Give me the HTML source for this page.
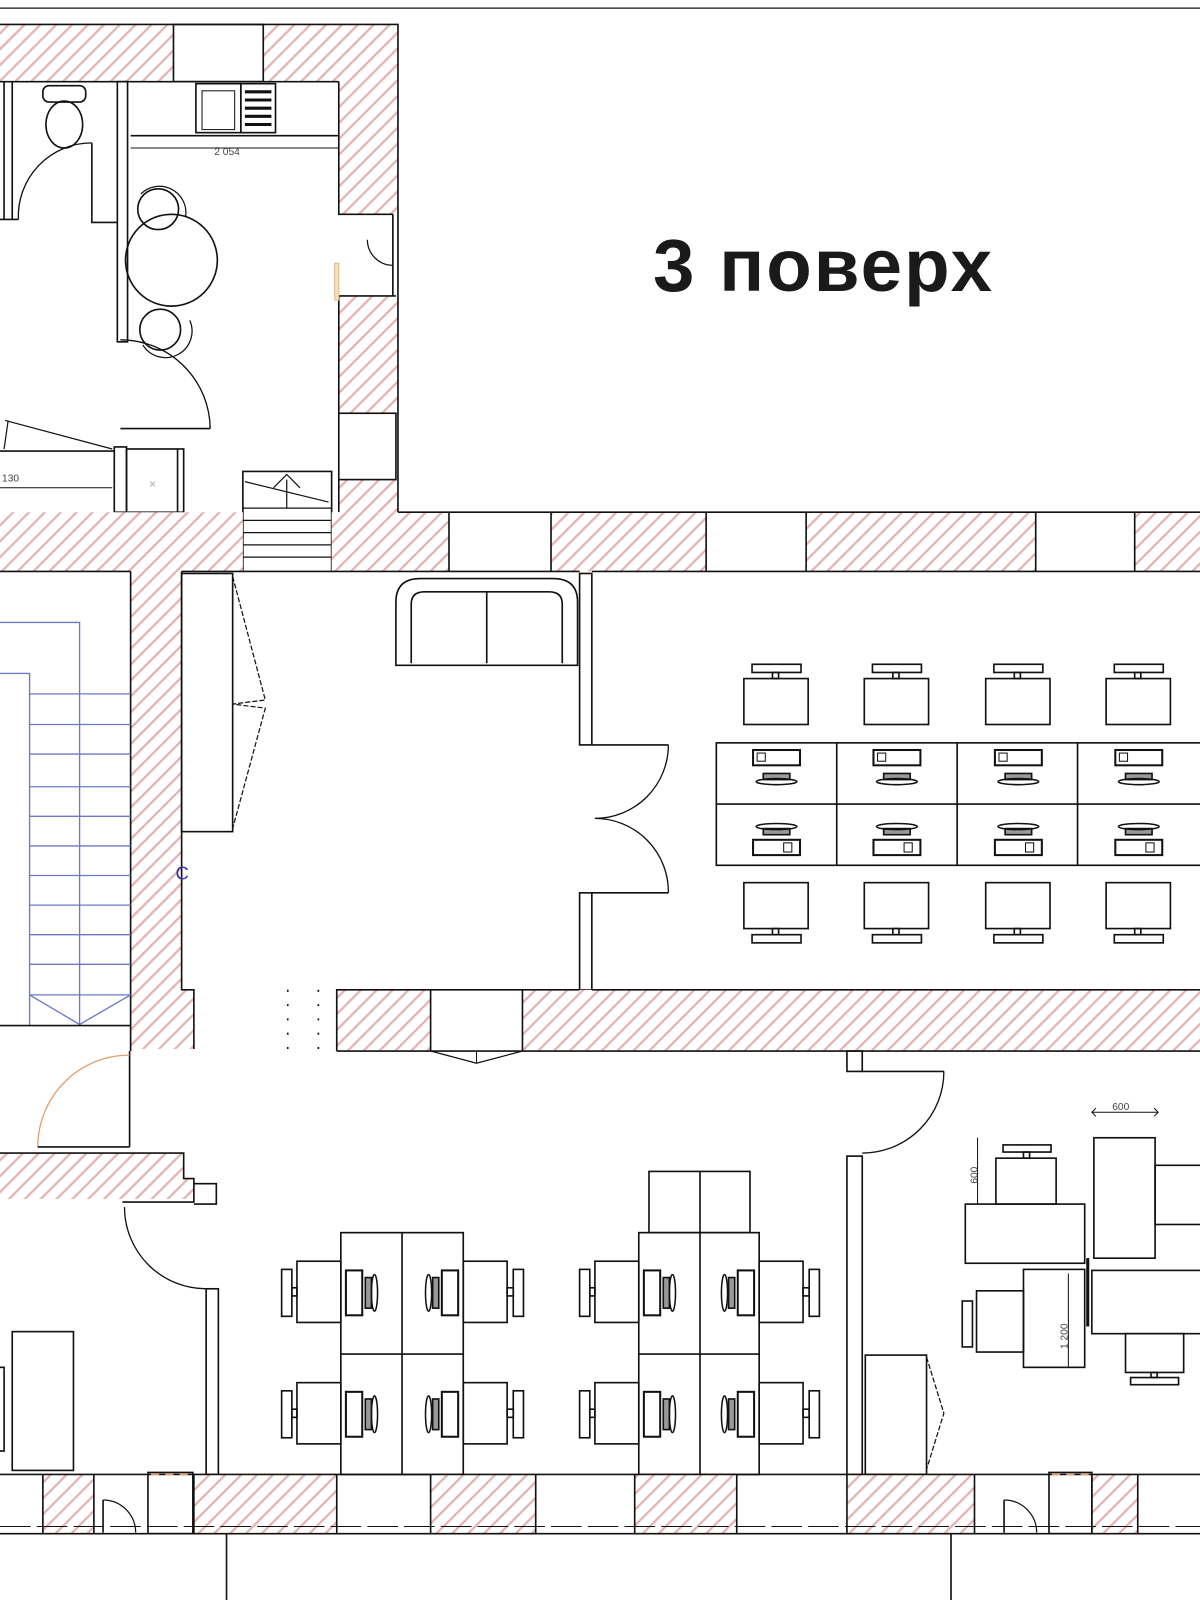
<!DOCTYPE html>
<html><head><meta charset="utf-8"><style>html,body{margin:0;padding:0;background:#fff}svg{display:block}</style></head>
<body>
<svg width="1200" height="1600" viewBox="0 0 1176 1568" preserveAspectRatio="none" xmlns="http://www.w3.org/2000/svg" font-family="Liberation Sans, sans-serif">
<defs>
<pattern id="h" width="11" height="11" patternUnits="userSpaceOnUse" patternTransform="rotate(45)">
<rect width="11" height="11" fill="#fff"/><rect x="0" y="0" width="2.2" height="11" fill="#e8b0b0"/>
</pattern>
</defs>
<g stroke="#111" stroke-width="1.6" fill="none">
<line x1="0" y1="8" x2="1176" y2="8" stroke-width="1.2"/>
<rect x="0" y="24" width="170" height="56" fill="url(#h)" stroke="none"/>
<rect x="258" y="24" width="132" height="56" fill="url(#h)" stroke="none"/>
<rect x="170" y="24" width="88" height="56" fill="#fff"/>
<rect x="332" y="80" width="58" height="130" fill="url(#h)" stroke="none"/>
<rect x="332" y="290" width="58" height="115" fill="url(#h)" stroke="none"/>
<rect x="332" y="470" width="58" height="32" fill="url(#h)" stroke="none"/>
<rect x="332" y="405" width="56" height="65" fill="#fff"/>
<polyline points="0,24 390,24 390,502"/>
<polyline points="332,80 332,210 358,210"/>
<polyline points="332,290 332,405"/>
<line x1="332" y1="470" x2="332" y2="502"/>
<line x1="358" y1="210" x2="385" y2="210"/><line x1="385" y1="210" x2="385" y2="290"/>
<path d="M360,235 A25,25 0 0 0 385,260" stroke-width="1.2"/>
<line x1="332" y1="290" x2="388" y2="290"/>
<rect x="328" y="258" width="4" height="36" fill="#f3e2c0" stroke="#d9b98a" stroke-width="1"/>
<line x1="0" y1="80" x2="332" y2="80"/>
<line x1="128" y1="133" x2="332" y2="133"/>
<line x1="128" y1="145" x2="332" y2="145" stroke-width="1"/>
<text x="210" y="152" font-size="10" fill="#444" stroke="none">2 054</text>
<rect x="192" y="82" width="44" height="48"/>
<rect x="198" y="89" width="32" height="38" stroke-width="1"/>
<rect x="236" y="82" width="34" height="48"/>
<g stroke-width="3"><line x1="240" y1="90" x2="266" y2="90"/><line x1="240" y1="98" x2="266" y2="98"/><line x1="240" y1="106" x2="266" y2="106"/><line x1="240" y1="114" x2="266" y2="114"/><line x1="240" y1="122" x2="266" y2="122"/></g>
<rect x="115" y="80" width="10" height="255"/>
<line x1="4" y1="80" x2="4" y2="215"/><line x1="12" y1="80" x2="12" y2="215"/>
<line x1="0" y1="215" x2="18" y2="215"/>
<rect x="42" y="84" width="42" height="16" rx="6"/>
<ellipse cx="63" cy="122" rx="18" ry="23"/>
<path d="M18,215 A72,72 0 0 1 90,140" stroke-width="1.3"/>
<line x1="90" y1="140" x2="90" y2="212"/>
<polyline points="90,212 90,218 115,218"/>
<circle cx="168" cy="255" r="45"/>
<circle cx="155" cy="205" r="20"/><path d="M138,190 A26,26 0 0 1 182,212" stroke-width="1.2"/>
<circle cx="157" cy="323" r="20"/><path d="M140,338 A26,26 0 0 0 186,314" stroke-width="1.2"/>
<path d="M118,333 A88,88 0 0 1 206,420" stroke-width="1.3"/>
<line x1="118" y1="420" x2="206" y2="420"/>
<line x1="5" y1="412" x2="110" y2="440" stroke-width="1.2"/>
<line x1="8" y1="412" x2="4" y2="440" stroke-width="1.2"/>
<line x1="0" y1="442" x2="112" y2="442"/>
<line x1="0" y1="478" x2="110" y2="478" stroke-width="1"/>
<text x="2" y="472" font-size="10" fill="#444" stroke="none">130</text>
<rect x="112" y="438" width="12" height="64"/>
<rect x="124" y="440" width="56" height="62"/>
<line x1="174" y1="440" x2="174" y2="502"/>
<text x="146" y="478" font-size="12" fill="#aaa" stroke="none">×</text>
<rect x="238" y="462" width="87" height="98"/>
<g stroke-width="1.2">
<line x1="238" y1="498" x2="325" y2="498"/><line x1="238" y1="510" x2="325" y2="510"/><line x1="238" y1="522" x2="325" y2="522"/><line x1="238" y1="534" x2="325" y2="534"/><line x1="238" y1="546" x2="325" y2="546"/>
<line x1="281" y1="470" x2="281" y2="498"/><polyline points="268,478 281,465 294,478"/>
<line x1="240" y1="472" x2="322" y2="492"/>
</g>
<rect x="0" y="502" width="238" height="58" fill="url(#h)" stroke="none"/>
<rect x="325" y="502" width="115" height="58" fill="url(#h)" stroke="none"/>
<rect x="540" y="502" width="152" height="58" fill="url(#h)" stroke="none"/>
<rect x="790" y="502" width="225" height="58" fill="url(#h)" stroke="none"/>
<rect x="1112" y="502" width="64" height="58" fill="url(#h)" stroke="none"/>
<line x1="390" y1="502" x2="1176" y2="502"/>
<line x1="440" y1="502" x2="440" y2="560"/><line x1="540" y1="502" x2="540" y2="560"/>
<line x1="692" y1="502" x2="692" y2="560"/><line x1="790" y1="502" x2="790" y2="560"/>
<line x1="1015" y1="502" x2="1015" y2="560"/><line x1="1112" y1="502" x2="1112" y2="560"/>
<line x1="0" y1="560" x2="128" y2="560"/>
<line x1="178" y1="560" x2="238" y2="560"/>
<line x1="325" y1="560" x2="568" y2="560"/>
<line x1="580" y1="560" x2="1176" y2="560"/>
<rect x="128" y="560" width="50" height="410" fill="url(#h)" stroke="none"/>
<rect x="128" y="970" width="62" height="58" fill="url(#h)" stroke="none"/>
<polyline points="128,560 128,1030"/>
<polyline points="178,560 178,970 190,970 190,1028" />
<g stroke="#6a78c8" stroke-width="1.3">
<polyline points="0,610 78,610 78,1005"/>
<polyline points="0,660 29,660 29,1005"/>
<line x1="29" y1="680" x2="128" y2="680"/><line x1="29" y1="710" x2="128" y2="710"/><line x1="29" y1="739" x2="128" y2="739"/><line x1="29" y1="771" x2="128" y2="771"/><line x1="29" y1="800" x2="128" y2="800"/><line x1="29" y1="829" x2="128" y2="829"/><line x1="29" y1="858" x2="128" y2="858"/><line x1="29" y1="887" x2="128" y2="887"/><line x1="29" y1="916" x2="128" y2="916"/><line x1="29" y1="945" x2="128" y2="945"/><line x1="29" y1="975" x2="128" y2="975"/>
<polyline points="29,975 78,1004 128,975"/>
</g>
<line x1="0" y1="1005" x2="128" y2="1005"/>
<text x="172" y="862" font-size="18" fill="#3a2fb0" stroke="none">C</text>
<line x1="127" y1="1030" x2="127" y2="1124"/>
<path d="M127,1034 A90,90 0 0 0 37,1124" stroke="#e0a070" stroke-width="1.3"/>
<line x1="37" y1="1124" x2="127" y2="1124"/>
<path d="M0,1130 L180,1130 L180,1155 L190,1155 L190,1175 L0,1175 Z" fill="url(#h)" stroke="none"/>
<polyline points="0,1130 180,1130 180,1155 190,1155 190,1178 120,1178"/>
<polyline points="190,1160 212,1160 212,1180 190,1180"/>
<path d="M122,1183 A80,80 0 0 0 202,1263" stroke-width="1.3"/>
<rect x="202" y="1263" width="12" height="182"/>
<rect x="12" y="1305" width="60" height="136"/>
<rect x="-2" y="1340" width="6" height="82"/>
<rect x="178" y="562" width="50" height="253"/>
<polyline points="228,565 260,686 228,690 260,694 228,812" stroke-dasharray="5,2" stroke-width="1.2"/>
<line x1="282" y1="970" x2="282" y2="1030" stroke-dasharray="2,12"/>
<line x1="312" y1="970" x2="312" y2="1030" stroke-dasharray="2,12"/>
<path d="M388,652 L388,590 Q388,567 412,567 L542,567 Q566,567 566,590 L566,652 Z"/>
<path d="M403,650 L403,592 Q403,580 416,580 L538,580 Q551,580 551,592 L551,650"/>
<line x1="477" y1="580" x2="477" y2="650"/>
<rect x="568" y="562" width="12" height="168"/>
<rect x="568" y="875" width="12" height="95"/>
<line x1="580" y1="730" x2="655" y2="730"/><line x1="580" y1="875" x2="655" y2="875"/>
<path d="M655,730 A72,72 0 0 1 583,802" stroke-width="1.3"/>
<path d="M655,875 A72,72 0 0 0 583,802" stroke-width="1.3"/>
<rect x="330" y="970" width="92" height="60" fill="url(#h)" stroke="none"/>
<rect x="512" y="970" width="664" height="60" fill="url(#h)" stroke="none"/>
<polyline points="330,1030 330,970 568,970"/><line x1="580" y1="970" x2="1176" y2="970"/>
<line x1="330" y1="1030" x2="1176" y2="1030"/>
<line x1="422" y1="970" x2="422" y2="1030"/><line x1="512" y1="970" x2="512" y2="1030"/>
<polyline points="422,1030 467,1042 512,1030" stroke-width="1.2"/>
<line x1="467" y1="1030" x2="467" y2="1042" stroke-width="1"/>
<rect x="702" y="728" width="480" height="120"/>
<line x1="702" y1="788" x2="1176" y2="788"/>
<line x1="820" y1="728" x2="820" y2="848"/><line x1="938" y1="728" x2="938" y2="848"/><line x1="1056" y1="728" x2="1056" y2="848"/>
</g>
<g stroke="#111" stroke-width="1.6" fill="none">
<g id="c1">
<rect x="737" y="651" width="48" height="8"/><rect x="757" y="659" width="6" height="6"/><rect x="729" y="665" width="63" height="45"/>
<rect x="738" y="735" width="46" height="15" stroke-width="2"/><rect x="742" y="738" width="8" height="8" stroke-width="1"/>
<rect x="748" y="758" width="26" height="6" fill="#999"/><ellipse cx="761" cy="766" rx="20" ry="3" stroke-width="1.5"/>
<rect x="738" y="823" width="46" height="15" stroke-width="2"/><rect x="768" y="826" width="8" height="9" stroke-width="1"/>
<rect x="748" y="812" width="26" height="6" fill="#999"/><ellipse cx="761" cy="810" rx="20" ry="3" stroke-width="1.5"/>
<rect x="729" y="865" width="63" height="45"/><rect x="757" y="910" width="6" height="6"/><rect x="737" y="916" width="48" height="8"/>
</g>
<use href="#c1" x="118"/><use href="#c1" x="237"/><use href="#c1" x="355"/>
</g>
<g stroke="#111" stroke-width="1.6" fill="none">
<rect x="830" y="1030" width="15" height="20"/>
<line x1="845" y1="1050" x2="925" y2="1050"/>
<path d="M925,1050 A80,80 0 0 1 845,1130" stroke-width="1.3"/>
<rect x="830" y="1133" width="15" height="312"/>
<rect x="334" y="1208" width="120" height="237"/>
<line x1="394" y1="1208" x2="394" y2="1445"/><line x1="334" y1="1327" x2="454" y2="1327"/>
<g id="sl">
<rect x="291" y="1236" width="43" height="60"/><rect x="276" y="1244" width="10" height="46"/><rect x="286" y="1262" width="5" height="8"/>
<rect x="339" y="1245" width="16" height="44" stroke-width="2"/><rect x="358" y="1252" width="6" height="30" fill="#999"/><ellipse cx="367" cy="1267" rx="3" ry="18" stroke-width="1.5"/>
</g>
<g id="sr">
<rect x="454" y="1236" width="43" height="60"/><rect x="503" y="1244" width="10" height="46"/><rect x="497" y="1262" width="6" height="8"/>
<rect x="433" y="1245" width="16" height="44" stroke-width="2"/><rect x="424" y="1252" width="6" height="30" fill="#999"/><ellipse cx="420" cy="1267" rx="3" ry="18" stroke-width="1.5"/>
</g>
<use href="#sl" y="119"/><use href="#sr" y="119"/>
<rect x="636" y="1148" width="99" height="60"/><line x1="686" y1="1148" x2="686" y2="1208"/>
<rect x="626" y="1208" width="118" height="237"/>
<line x1="686" y1="1208" x2="686" y2="1445"/><line x1="626" y1="1327" x2="744" y2="1327"/>
<use href="#sl" x="292"/><use href="#sr" x="290"/><use href="#sl" x="292" y="119"/><use href="#sr" x="290" y="119"/>
<line x1="1070" y1="1090" x2="1135" y2="1090" stroke-width="1"/>
<polyline points="1074,1086 1070,1090 1074,1094" stroke-width="1"/><polyline points="1131,1086 1135,1090 1131,1094" stroke-width="1"/>
<text x="1090" y="1088" font-size="10" fill="#444" stroke="none">600</text>
<rect x="1072" y="1115" width="60" height="118"/>
<rect x="1132" y="1142" width="48" height="58"/>
<rect x="983" y="1122" width="47" height="7"/><rect x="1003" y="1129" width="6" height="6"/>
<rect x="976" y="1135" width="59" height="45"/>
<rect x="946" y="1180" width="117" height="58"/>
<line x1="958" y1="1115" x2="958" y2="1180" stroke-width="1"/>
<text x="0" y="0" font-size="10" fill="#444" stroke="none" transform="translate(958,1160) rotate(-90)">600</text>
<rect x="1003" y="1244" width="60" height="96"/>
<line x1="1047" y1="1248" x2="1047" y2="1340" stroke-width="1"/>
<text x="0" y="0" font-size="10" fill="#444" stroke="none" transform="translate(1046,1322) rotate(-90)">1 200</text>
<rect x="957" y="1265" width="46" height="60"/><rect x="943" y="1275" width="10" height="45"/>
<rect x="1070" y="1245" width="110" height="62"/>
<line x1="1066" y1="1233" x2="1066" y2="1300" stroke-width="3"/>
<rect x="1103" y="1307" width="57" height="38"/><rect x="1128" y="1345" width="6" height="5"/><rect x="1108" y="1350" width="47" height="7"/>
<rect x="848" y="1328" width="60" height="117"/>
<polyline points="908,1330 925,1385 908,1440" stroke-dasharray="5,2" stroke-width="1.2"/>
<rect x="42" y="1445" width="50" height="58" fill="url(#h)" stroke="none"/>
<rect x="190" y="1445" width="140" height="58" fill="url(#h)" stroke="none"/>
<rect x="422" y="1445" width="103" height="58" fill="url(#h)" stroke="none"/>
<rect x="622" y="1445" width="100" height="58" fill="url(#h)" stroke="none"/>
<rect x="830" y="1445" width="125" height="58" fill="url(#h)" stroke="none"/>
<rect x="1070" y="1445" width="45" height="58" fill="url(#h)" stroke="none"/>
<line x1="0" y1="1445" x2="1176" y2="1445"/>
<line x1="0" y1="1503" x2="1176" y2="1503"/>
<line x1="42" y1="1445" x2="42" y2="1503"/><line x1="92" y1="1445" x2="92" y2="1503"/>
<line x1="190" y1="1445" x2="190" y2="1503"/><line x1="330" y1="1445" x2="330" y2="1503"/>
<line x1="422" y1="1445" x2="422" y2="1503"/><line x1="525" y1="1445" x2="525" y2="1503"/>
<line x1="622" y1="1445" x2="622" y2="1503"/><line x1="722" y1="1445" x2="722" y2="1503"/>
<line x1="830" y1="1445" x2="830" y2="1503"/><line x1="955" y1="1445" x2="955" y2="1503"/>
<line x1="1070" y1="1445" x2="1070" y2="1503"/><line x1="1115" y1="1445" x2="1115" y2="1503"/>
<line x1="0" y1="1496" x2="1176" y2="1496" stroke-width="1" stroke-dasharray="30,6"/>
<path d="M101,1470 A32,32 0 0 1 133,1502" stroke-width="1.2"/><line x1="101" y1="1470" x2="101" y2="1502"/>
<rect x="145" y="1443" width="44" height="60"/><line x1="148" y1="1445" x2="186" y2="1445" stroke="#e0a070" stroke-dasharray="8,6" stroke-width="2"/>
<path d="M984,1470 A32,32 0 0 1 1016,1502" stroke-width="1.2"/><line x1="984" y1="1470" x2="984" y2="1502"/>
<rect x="1028" y="1443" width="42" height="60"/><line x1="1031" y1="1445" x2="1067" y2="1445" stroke="#e0a070" stroke-dasharray="8,6" stroke-width="2"/>
<line x1="222" y1="1503" x2="222" y2="1568"/>
<line x1="932" y1="1503" x2="932" y2="1568"/>
</g>
<text x="640" y="285" font-size="73" font-weight="bold" letter-spacing="2" fill="#1a1a1a">3 поверх</text>
</svg>
</body></html>
